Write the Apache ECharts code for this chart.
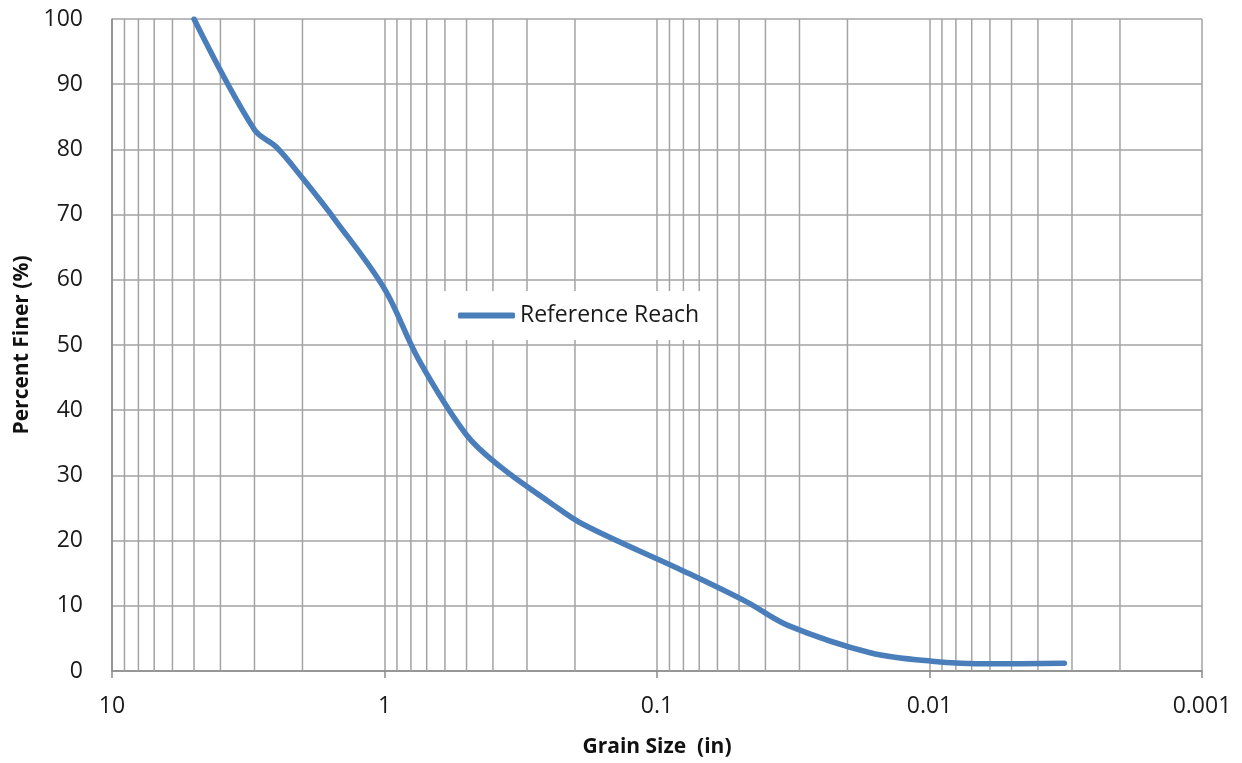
<!DOCTYPE html>
<html>
<head>
<meta charset="UTF-8">
<title>Grain Size Distribution</title>
<script src="https://cdn.jsdelivr.net/npm/echarts@6/dist/echarts.min.js"></script>
<style>
    * { margin: 0; padding: 0; }
    html, body { width: 100%; height: 100%; background: #fff; }
    #chart { width: 1242px; height: 763px; }
</style>
</head>
<body>
<div id="chart"></div>
<script>
    // sieve sizes (in) and percent finer
    var grainSize = [5, 3, 2.5, 2, 1.5, 1, 0.75, 0.5, 0.375, 0.25, 0.187, 0.0787, 0.0469, 0.0331, 0.0165, 0.0098, 0.0059, 0.0032];
    var percentFiner = [100, 83, 80.4, 75.6, 68.9, 58.6, 47.8, 36.2, 31.3, 26, 22.5, 15.2, 10.6, 7, 2.8, 1.5, 1.1, 1.2];
    var seriesName = 'Reference Reach';
    var xTicks = [10, 1, 0.1, 0.01, 0.001];
    var yTicks = [0, 10, 20, 30, 40, 50, 60, 70, 80, 90, 100];

    var gridColor = '#a3a3a3';
    var axisColor = '#8a8a8a';
    var font = '"Open Sans", "Liberation Sans", sans-serif';

    // log minor grid lines 2..9 x 10^k, drawn as broken vertical segments
    var minorLines = [];
    for (var k = -3; k < 1; k++) {
        for (var m = 2; m <= 9; m++) {
            var v = +(m * Math.pow(10, k)).toPrecision(3);
            minorLines.push([v, yTicks[0]], [v, yTicks[yTicks.length - 1]], [v, '-']);
        }
    }

    var points = [];
    for (var i = 0; i < grainSize.length; i++) {
        points.push([grainSize[i], percentFiner[i]]);
    }

    var myChart = echarts.init(document.getElementById('chart'));
    var option = {
        animation: false,
        backgroundColor: '#fff',
        grid: { left: 112, right: 40, top: 19, bottom: 92 },
        legend: {
            data: [seriesName],
            left: 438,
            top: 291,
            padding: [13, 16, 13, 20],
            backgroundColor: '#fff',
            itemWidth: 57,
            itemHeight: 6,
            itemGap: 4,
            icon: 'roundRect',
            textStyle: { fontFamily: font, fontSize: 23, color: '#1a1a1a', padding: [0, 0, 0, 0] }
        },
        xAxis: {
            type: 'log',
            logBase: 10,
            inverse: true,
            min: xTicks[xTicks.length - 1],
            max: xTicks[0],
            name: 'Grain Size  (in)',
            nameLocation: 'middle',
            nameGap: 66,
            nameTextStyle: { fontFamily: font, fontSize: 21, fontWeight: 'bold', color: '#111' },
            axisLine: { lineStyle: { color: axisColor, width: 1.5 } },
            axisTick: { show: true, length: 7, lineStyle: { color: axisColor, width: 1.5 } },
            axisLabel: {
                fontFamily: font, fontSize: 23, color: '#1a1a1a', margin: 24,
                formatter: function (v) { return String(+v.toPrecision(3)); }
            },
            splitLine: { show: true, lineStyle: { color: gridColor, width: 1.5 } }
        },
        yAxis: {
            type: 'value',
            min: yTicks[0],
            max: yTicks[yTicks.length - 1],
            interval: 10,
            name: 'Percent Finer (%)',
            nameLocation: 'middle',
            nameGap: 76,
            nameTextStyle: { fontFamily: font, fontSize: 21, fontWeight: 'bold', color: '#111' },
            axisLine: { show: true, lineStyle: { color: axisColor, width: 1.5 } },
            axisTick: { show: false },
            axisLabel: { fontFamily: font, fontSize: 23, color: '#1a1a1a', margin: 29 },
            splitLine: { show: true, lineStyle: { color: gridColor, width: 1.5 } }
        },
        series: [
            {
                name: 'minor',
                type: 'line',
                data: minorLines,
                z: 1,
                silent: true,
                symbol: 'none',
                connectNulls: false,
                lineStyle: { color: gridColor, width: 1.5 },
                emphasis: { disabled: true }
            },
            {
                name: seriesName,
                type: 'line',
                data: points,
                z: 3,
                smooth: 0.35,
                showSymbol: false,
                symbol: 'none',
                color: '#4a7ebb',
                lineStyle: { color: '#4a7ebb', width: 5.5, cap: 'round' }
            }
        ]
    };
    myChart.setOption(option);
</script>
</body>
</html>
